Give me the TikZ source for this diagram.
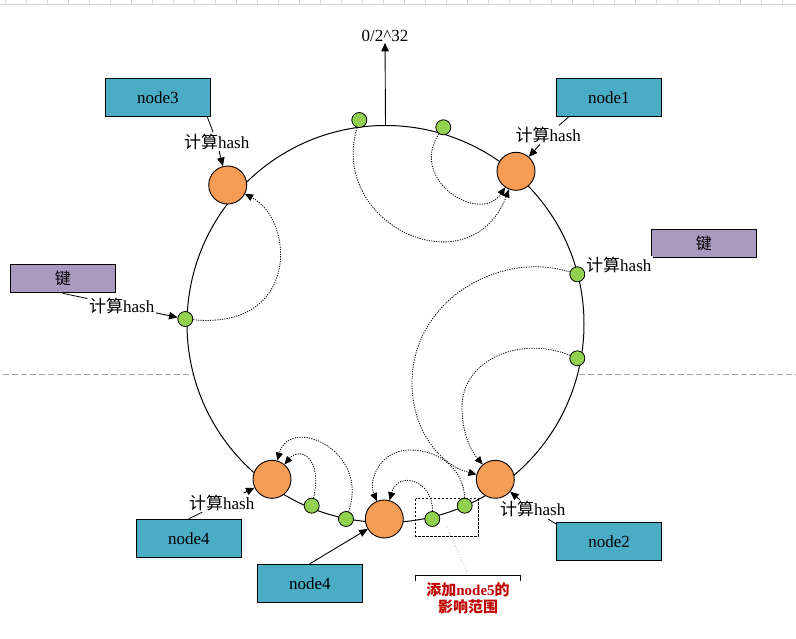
\documentclass[tikz,border=0pt]{standalone}
\usepackage{fontspec}
\setmainfont{Liberation Serif}
\newfontfamily\cjk{Noto Sans CJK SC}
\usetikzlibrary{arrows.meta}
\definecolor{teal5}{HTML}{4BACC6}
\definecolor{purp}{HTML}{A99BBF}
\definecolor{orng}{HTML}{F69C55}
\definecolor{grn}{HTML}{92D050}
\definecolor{dred}{HTML}{C00000}
\definecolor{gridc}{HTML}{D9D9D9}
\definecolor{pagebrk}{HTML}{A6A6A6}
\begin{document}
\begin{tikzpicture}[x=1pt,y=-1pt,
  nodebox/.style={draw, line width=1.1pt, fill=teal5, minimum width=105pt, minimum height=38pt, inner sep=0pt, font=\fontsize{17}{20}\selectfont},
  keybox/.style={draw, line width=1.1pt, fill=purp, minimum width=105pt, minimum height=28pt, inner sep=0pt, font=\fontsize{16}{19}\selectfont\cjk},
  srv/.style={circle, draw, line width=0.9pt, fill=orng, minimum size=38pt, inner sep=0pt},
  kpt/.style={circle, draw, line width=0.8pt, fill=grn, minimum size=15pt, inner sep=0pt},
  hashlbl/.style={fill=white, inner sep=1.5pt, font=\fontsize{17}{20}\selectfont},
  conn/.style={line width=0.8pt},
  arr/.style={line width=0.9pt, -{Triangle[length=8.5pt,width=7.5pt]}},
  darc/.style={line width=0.8pt, dash pattern=on 1.2pt off 1.2pt, -{Triangle[length=8pt,width=7pt]}},
]
\useasboundingbox (0,0) rectangle (796,639);
% spreadsheet grid strip at the top
\draw[gridc, line width=1pt] (0,5) -- (796,5);
\foreach \i in {0,...,37} \draw[gridc, line width=1pt] ({5.3+21*\i},0) -- ({5.3+21*\i},5);
% page break line
\draw[pagebrk, line width=1pt, dash pattern=on 6pt off 3pt] (3,374.3) -- (796,374.3);
% ring
\draw[line width=1pt, fill=white] (385.5,324) circle[radius=198.5pt];
\coordinate (ringtop) at (385.5,125.5);

% label on top
\node[font=\fontsize{17}{20}\selectfont, inner sep=1pt] (zl) at (385,36) {0/2\textasciicircum 32};
\draw[arr] (ringtop) -- (zl);

% dashed range box, bracket, dotted pointer
\draw[line width=0.8pt, dash pattern=on 2.5pt off 1.5pt] (415.7,498.7) rectangle (478.3,536.3);
\coordinate (pa) at (446.7,526.7);
\coordinate (pb) at (466.7,571.7);
\draw[gray!45, line width=0.9pt, dash pattern=on 1pt off 2pt] (pa) -- (pb);
\draw[line width=0.9pt] (415.7,581) -- (415.7,575) -- (520,575) -- (520,581);
\node[text=dred, align=center, font=\fontsize{15}{17}\selectfont\bfseries] (rng) at (468,598.5)
  {{\cjk 添加}node5{\cjk 的}\\{\cjk 影响范围}};

% server nodes (orange)
\node[srv] (o3) at (227.7,185) {};
\node[srv] (o1) at (516,171.3) {};
\node[srv] (o2) at (495.3,479.3) {};
\node[srv] (o4a) at (272,479.3) {};
\node[srv] (o4b) at (384.3,519) {};

% key points (green)
\node[kpt] (g1) at (359.3,120) {};
\node[kpt] (g2) at (443.3,127.3) {};
\node[kpt] (gkr) at (577.3,274.3) {};
\node[kpt] (gr2) at (577.3,358.3) {};
\node[kpt] (gb4) at (464.7,505.7) {};
\node[kpt] (gb3) at (432.3,519) {};
\node[kpt] (gb2) at (346,519) {};
\node[kpt] (gb1) at (311.7,505.7) {};
\node[kpt] (gkl) at (185.3,319) {};

% boxes
\node[nodebox] (n3box) at (157.8,97.2) {node3};
\node[nodebox] (n1box) at (608.8,97.2) {node1};
\node[keybox] (keyL) at (62.8,278.8) {键};
\node[keybox] (keyR) at (703.8,243.3) {键};
\node[nodebox] (n4abox) at (188.8,538.3) {node4};
\node[nodebox] (n2box) at (609.2,541.3) {node2};
\node[nodebox] (n4bbox) at (309.8,583.3) {node4};

% hash labels
\node[hashlbl] (h3) at (216.7,141.7) {{\cjk 计算}hash};
\node[hashlbl] (h1) at (548.3,135) {{\cjk 计算}hash};
\node[hashlbl] (hkl) at (121.7,305.7) {{\cjk 计算}hash};
\node[hashlbl] (hkr) at (618.8,265) {{\cjk 计算}hash};
\node[hashlbl] (h4a) at (221.7,502.7) {{\cjk 计算}hash};
\node[hashlbl] (h2) at (532.7,509.3) {{\cjk 计算}hash};

% connectors boxes -> labels -> ring
\draw[conn] ([xshift=-3.6pt]n3box.south east) -- (h3);
\draw[arr] (h3) -- (o3);
\draw[conn] ([xshift=13pt]n1box.south west) -- (h1);
\draw[arr] (h1) -- (o1);
\draw[conn] (keyL.south) -- (hkl);
\draw[arr] (hkl) -- (gkl);
\draw[conn] (n4abox.north) -- (h4a);
\draw[arr] ([xshift=-12.5pt]h4a.north east) -- (o4a);
\draw[conn] ([yshift=-2.3pt]n2box.north west) -- (h2);
\draw[arr] ([xshift=21.4pt]h2.north west) -- (o2);
\draw[arr] (n4bbox.north) -- (o4b);

% dotted mapping arcs
\draw[darc] (g1) .. controls (328,225) and (470,290) .. (o1);
\draw[darc] (g2) .. controls (408,180) and (480,225) .. (o1);
\draw[darc] (gkl) .. controls (300,330) and (295,220) .. (o3);
\draw[darc] (gkr) .. controls (500,250) and (412,300) .. (412,383) .. controls (412,430) and (440,465) .. (o2);
\draw[darc] (gr2) .. controls (520,335) and (462,360) .. (462,407) .. controls (462,435) and (472,452) .. (o2);
\draw[darc] (gb4) .. controls (464,470) and (440,450) .. (410,450) .. controls (380,450) and (368,480) .. (o4b);
\draw[darc] (gb3) .. controls (433,480) and (398,470) .. (o4b);
\draw[darc] (gb2) .. controls (370,450) and (290,415) .. (o4a);
\draw[darc] (gb1) .. controls (323,458) and (300,446) .. (o4a);
\end{tikzpicture}
\end{document}
